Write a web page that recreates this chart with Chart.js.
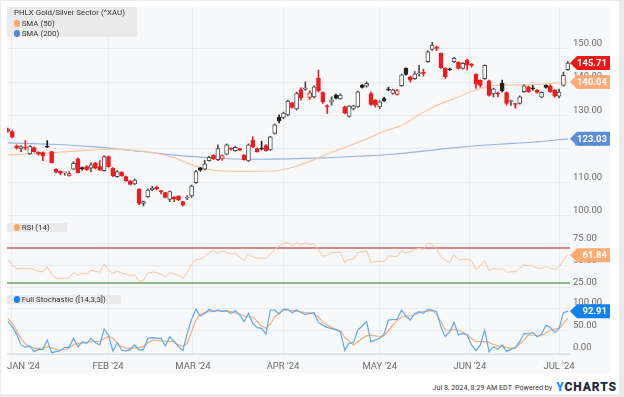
<!DOCTYPE html>
<html><head><meta charset="utf-8">
<script src="https://cdn.jsdelivr.net/npm/chart.js@4"></script>
<style>
html,body{margin:0;padding:0;background:#fff;width:624px;height:397px;overflow:hidden;font-family:Roboto,sans-serif;}
#frame{position:absolute;left:0;top:0;width:624px;height:397px;box-sizing:border-box;border-style:solid;border-color:#ebebeb;border-width:1px 5px 3px 1px;}
#panel{position:absolute;left:7px;top:7px;width:603px;height:366px;background:#f7f8f9;}
canvas{position:absolute;left:7px;}
.leg{position:absolute;left:7px;background:rgba(232,232,232,0.85);z-index:5;color:#333;font-size:7.9px;line-height:9px;white-space:nowrap;}
.leg .row{position:absolute;}
.dot{position:absolute;width:6.5px;height:6.5px;border-radius:50%;}
#footer{position:absolute;right:7px;top:380px;height:14px;display:flex;align-items:center;gap:3px;color:#333;font-size:7.2px;z-index:5;white-space:nowrap;}
#logo{font-weight:900;font-size:12px;letter-spacing:0.9px;color:#1c2a3a;margin-left:1px;}
#logo span{color:#1a8cff;}
</style>
</head><body>
<div id="frame"></div>
<div id="panel"></div>
<canvas id="main" width="603" height="210" style="top:7px"></canvas>
<canvas id="rsi" width="603" height="71" style="top:218px"></canvas>
<canvas id="stoch" width="603" height="84" style="top:290px"></canvas>

<div class="leg" style="top:7px;width:130px;height:30px;">
  <div class="row" style="left:7px;top:0.8px;">PHLX Gold/Silver Sector (^XAU)</div>
  <div class="dot" style="left:6.5px;top:13px;background:#ffa468;"></div>
  <div class="row" style="left:14.7px;top:11.8px;">SMA (50)</div>
  <div class="dot" style="left:6.5px;top:23px;background:#4f86d9;"></div>
  <div class="row" style="left:14.7px;top:21.8px;">SMA (200)</div>
</div>
<div class="leg" style="top:223px;width:60px;height:9px;">
  <div class="dot" style="left:6.5px;top:1.3px;background:#ffa468;"></div>
  <div class="row" style="left:14.7px;top:0px;">RSI (14)</div>
</div>
<div class="leg" style="top:295px;width:114px;height:9px;">
  <div class="dot" style="left:6.5px;top:1.3px;background:#1a7ff0;"></div>
  <div class="row" style="left:14.7px;top:0px;">Full Stochastic ([14,3,3])</div>
</div>
<div id="footer"><span>Jul 8, 2024, 8:29 AM EDT</span><span>Powered by</span><span id="logo"><span>Y</span>CHARTS</span></div>

<script>
// ---------- data ----------
const monthLabels = ["JAN '24","FEB '24","MAR '24","APR '24","MAY '24","JUN '24","JUL '24"];
const monthTicks = [0.9, 22.9, 42.3, 62.9, 85.0, 105.6, 126.0]; // trading-day index of month marks
const priceTicks = [100, 110, 120, 130, 140, 150];
const rsiTicks = [25, 50, 75];
const stochTicks = [0, 50, 100];
const rsiUpper = 70, rsiLower = 30;

const opens = [125.8,125.2,120.9,120.0,120.5,118.5,120.4,119.0,118.9,120.6,
119.2,113.9,113.3,112.8,111.9,113.9,117.0,114.3,114.7,114.2,
115.7,114.7,113.5,117.7,114.2,111.7,113.0,111.7,110.4,109.5,
107.9,103.7,105.7,107.7,108.6,107.4,106.9,104.9,105.5,105.9,
104.2,105.3,105.9,109.9,114.3,113.9,116.5,118.1,116.8,117.0,
118.4,120.1,119.5,120.1,118.1,116.4,122.6,120.1,120.0,121.0,
119.7,124.6,129.5,129.4,130.2,133.8,132.0,137.8,137.9,135.4,
135.6,141.1,136.9,132.8,134.0,136.1,135.0,132.6,129.7,132.0,
132.6,139.1,138.8,136.6,134.6,132.6,135.1,137.7,136.6,136.3,
138.9,144.1,141.6,141.0,142.5,142.7,146.1,149.8,150.2,148.6,
144.1,144.0,146.1,145.9,144.1,146.6,145.2,142.3,140.5,141.0,
140.4,136.5,136.8,139.6,136.9,134.2,133.4,133.6,137.1,138.6,
138.3,137.6,135.5,139.0,138.9,137.6,135.8,139.0,143.7];
const highs = [126.2,125.5,121.2,121.0,122.5,121.0,120.6,119.2,119.1,122.5,
119.3,114.0,113.4,113.0,113.1,116.2,117.3,114.6,115.0,115.8,
116.0,116.5,118.0,117.9,114.4,113.5,113.2,111.9,110.6,111.0,
108.1,104.4,108.0,108.8,108.9,107.5,107.0,107.4,105.7,106.0,
104.3,106.0,109.2,113.6,114.5,116.6,117.8,118.3,121.2,118.2,
121.5,120.3,120.8,120.2,118.3,121.5,123.6,120.3,122.3,121.3,
123.8,127.5,130.2,131.0,134.6,134.0,137.0,138.3,140.1,137.4,
138.9,143.6,137.1,133.2,135.6,136.4,136.5,132.8,133.0,133.1,
137.3,139.3,140.1,137.0,134.8,134.4,135.5,138.5,137.9,137.8,
142.4,144.3,141.8,143.2,145.0,143.9,149.4,151.9,150.8,148.8,
144.3,144.2,147.4,146.1,145.8,146.9,145.6,142.5,140.7,145.2,
140.6,138.2,137.0,140.6,137.1,134.6,133.7,135.9,139.2,138.8,
139.0,137.8,137.1,139.2,139.2,137.8,137.9,143.0,146.2];
const lows = [125.0,123.3,119.9,119.2,119.7,118.3,119.0,118.1,116.5,120.4,
115.8,112.8,112.2,112.1,111.8,113.8,112.8,113.6,113.5,113.2,
114.0,113.5,113.3,114.5,111.7,111.5,111.8,110.3,109.2,109.3,
103.3,102.9,105.5,107.5,107.8,106.5,105.3,104.2,104.2,104.5,
102.9,104.8,105.5,109.7,113.3,113.7,116.3,116.8,116.5,116.6,
118.2,119.6,119.3,119.5,116.6,116.2,120.4,119.0,119.7,119.3,
119.5,124.4,127.8,129.0,129.9,132.2,131.6,134.6,137.5,134.8,
135.3,137.0,133.6,130.6,133.1,135.0,134.8,130.5,129.5,131.7,
132.4,138.2,138.5,133.0,132.5,132.0,134.2,137.4,136.4,136.1,
138.7,142.1,140.0,140.8,141.8,141.8,145.9,149.5,149.4,144.1,
141.1,143.5,145.9,143.9,143.9,143.6,144.5,138.1,138.5,140.8,
135.8,135.5,135.6,137.0,133.1,133.0,132.2,133.4,136.9,136.9,
137.6,136.7,135.3,138.2,136.9,135.5,135.3,138.8,143.5];
const closes = [125.4,123.5,120.2,120.7,120.2,120.7,119.2,118.4,117.9,120.5,
115.9,113.0,112.7,112.9,112.6,115.7,112.9,114.1,113.8,115.2,
114.2,113.7,117.7,114.7,111.9,113.2,112.0,110.5,109.4,110.7,
103.7,104.2,107.7,108.3,108.0,107.2,105.5,107.2,105.0,104.7,
103.2,105.5,108.9,113.2,113.6,115.5,117.5,117.0,120.1,118.0,
121.2,119.9,120.5,119.6,116.8,121.2,120.6,119.2,119.9,119.5,
123.6,127.2,128.4,130.7,134.3,132.4,136.6,135.3,138.3,136.8,
138.6,137.4,134.1,132.6,134.7,135.2,136.1,130.7,132.8,132.9,
137.1,138.4,139.6,133.3,133.1,134.1,134.4,137.6,137.7,137.5,
142.2,142.3,140.6,142.5,142.7,142.6,149.1,151.1,150.1,144.3,
141.6,143.7,147.1,144.1,145.6,145.1,145.0,139.4,139.0,145.0,
136.0,138.0,136.5,137.4,133.6,134.4,133.3,135.6,138.9,137.1,
138.0,136.9,136.95,138.4,137.1,135.8,137.0,142.0,145.71];

const sma50Idx = [0,8,16,24,30,34,38,42,46,52,58,62,66,70,74,78,82,86,90,94,98,102,106,110,114,118,122,126,128];
const sma50 = [118.2,118.7,119.4,119.9,119.4,118.7,117.3,115.3,113.8,113.3,113.3,113.6,114.8,116.8,119.0,120.9,123.0,125.3,127.0,130.2,133.0,135.0,137.2,138.8,139.2,139.2,139.4,139.8,140.04];
const sma200Idx = [0,10,20,30,40,48,56,64,72,80,88,96,104,112,120,128];
const sma200 = [121.8,121.4,120.6,119.3,117.9,117.2,116.9,117.0,117.3,117.8,118.4,119.5,120.6,121.4,122.0,123.03];

const rsi = [57,51,46,47,46.5,46.8,45,43.5,42.5,48.7,
40,35.3,35,35.5,35.2,42,39,41,40.5,44.5,
43.5,42.3,51.7,45,41,43.8,41.5,40,38.3,39.5,
31.5,33.4,41.1,42.5,41.9,40,37.1,41.9,40,39,
35.2,42,52,56.5,57.1,60.2,64.6,67.6,63.1,67,
65,63.2,63.8,60,55.6,62.8,60,58.2,58.5,58.2,
63,68.5,72,75.3,76.4,72.3,76,74,76,73.3,
75,67.6,60.6,62,64.3,65,65.3,53.6,57.1,57.1,
64.8,66,67,53.6,54,55.2,54.4,60.9,60.5,60.2,
67.6,64,66,68.4,69.5,68.4,75.3,74.2,68.4,60,
56.3,53.2,62.1,56.3,57.1,57.1,55.6,45.6,49.5,55.6,
44.1,46.8,45.6,46.5,42.5,42.7,42.9,46.8,50.6,49.5,
49.5,47,46.8,48.7,46.8,45.5,48.7,56.3,61.84];

const stochK = [69.6,58.5,42,18,12.6,15.6,3,8,8.1,28.9,
0.7,3,5.2,12.6,12.6,32.6,14.1,25.2,21.5,32.6,
23,17.8,53.3,40,4.4,23,6.7,4.4,8,17.8,
6.7,8.1,32.6,34,33,32.6,15.6,36.3,25.2,14.1,
5.2,43.7,75,97,82.2,88,97,91.9,95.6,91.9,
94,88,94,84.4,69.6,88,65.9,56.3,54.8,42.2,
95.6,95.6,86.7,97,97,89.6,95.6,90,86,88,
89.6,67.4,62,57,54,52,47.4,6.7,21.5,23,
51.1,60,69.6,25.2,29,32.6,42.2,73.3,74,74.8,
95.6,82.2,73.3,88,91.9,88,97,95.6,91.9,58.5,
36.3,47.4,67.4,40,43.7,40,17.8,5.2,17.8,51.1,
3,14.1,8.1,17.8,3,8.1,12.6,25.2,43.7,42.2,
45.2,36.3,42.2,62.2,57,45.2,54.8,89.6,92.91];

const stochD = [77,66,50,32,20,14,11,10.4,11,13.5,
12,8,6.7,8,10.4,19,21.5,22,23,26,
25.2,26,32,37,32.6,22,14.1,11,10.4,11,
12,14.1,22,28.9,28,27,26.7,26,25.2,18,
15,21.5,48,73.3,86,90,92,93.3,94,93.5,
93.3,92,89,86.7,82,80,79.3,70,60,54.8,
64,80,89,95.6,95,94,93,92,90,89,
86,80.7,68,62.2,57,52,49.6,35,26,17.8,
25,32.6,38,40,38,36.3,38,50,62.2,72,
80,82.2,82.2,85,89,91.9,93,94.1,86,70,
51.1,50,52.6,50,46,41,32,25.2,25.2,25.2,
23,19,16,14,12.6,11,10.4,20,28.9,40,
40,38.5,37.8,45,51.1,53,54.8,66,77];

// ---------- helpers ----------
Chart.defaults.font.family = 'Roboto';
const X_MIN = -0.2, X_MAX = 128.5;
const n = closes.length;
const idx = closes.map((_, i) => i);
const RED = '#f21a1a', DARK = '#222222', EDGE = '#4d4d4d';
const isUp = i => closes[i] >= opens[i];
const isRed = i => closes[i] < (i > 0 ? closes[i - 1] : opens[i]);
const edgeColor = i => isRed(i) ? RED : (isUp(i) ? EDGE : DARK);
const fillColor = i => isUp(i) ? '#ffffff' : (isRed(i) ? RED : DARK);
const GRID = 'rgba(0,0,0,0.05)';

function xScale(bottom) {
  return {
    type: 'linear', min: X_MIN, max: X_MAX, offset: false,
    afterBuildTicks: s => { s.ticks = monthTicks.map(v => ({ value: v })); },
    grid: { color: GRID, drawTicks: false, offset: false },
    border: { display: bottom, color: '#dcdcdc' },
    ticks: { display: false },
    afterFit: s => { s.height = bottom ? 20 : 0; s.paddingLeft = 0; s.paddingRight = 0; }
  };
}
function yScale(min, max, ticks) {
  return {
    position: 'right', min, max,
    afterBuildTicks: s => { s.ticks = ticks.map(v => ({ value: v })); },
    grid: { color: GRID, drawTicks: false },
    border: { display: false },
    ticks: { autoSkip: false, padding: 3, color: '#6b6b6b', font: { size: 9.5 }, labelOffset: -5,
             callback: v => Number(v).toFixed(2) },
    afterFit: s => { s.width = 40; s.paddingTop = 0; s.paddingBottom = 0; }
  };
}
function tagPlugin(tags) {
  return { id: 'tags', afterDraw(chart) {
    const ctx = chart.ctx, ys = chart.scales.y, a = chart.chartArea;
    tags.forEach(t => {
      const py = ys.getPixelForValue(t.value), h = 14;
      const x0 = a.right, x1 = x0 + 7, x2 = chart.width;
      ctx.save();
      ctx.fillStyle = t.color;
      ctx.beginPath();
      ctx.moveTo(x0, py); ctx.lineTo(x1, py - h / 2); ctx.lineTo(x2, py - h / 2);
      ctx.lineTo(x2, py + h / 2); ctx.lineTo(x1, py + h / 2); ctx.closePath(); ctx.fill();
      ctx.fillStyle = '#fff'; ctx.font = 'bold 9.5px Roboto';
      ctx.textAlign = 'right'; ctx.textBaseline = 'middle';
      ctx.fillText(t.value.toFixed(2), x2 - 3, py + 0.5);
      ctx.restore();
    });
  } };
}
const monthLabelPlugin = { id: 'monthLabels', afterDraw(chart) {
  const ctx = chart.ctx, xs = chart.scales.x, a = chart.chartArea;
  ctx.save(); ctx.font = '9.5px Roboto'; ctx.fillStyle = '#6b6b6b';
  ctx.textAlign = 'center'; ctx.textBaseline = 'middle';
  monthTicks.forEach((p, k) => {
    const t = monthLabels[k], w = ctx.measureText(t).width;
    const cx = Math.max(xs.getPixelForValue(p), a.left + w / 2);
    ctx.fillText(t, cx, a.bottom + 13);
  });
  ctx.restore();
} };
const baseOpts = (scales) => ({
  responsive: false, animation: false, events: [],
  layout: { padding: 0 },
  plugins: { legend: { display: false }, tooltip: { enabled: false } },
  scales
});
const lineDs = (data, color, w, order) => ({
  type: 'line', data, borderColor: color, borderWidth: w, pointRadius: 0,
  fill: false, tension: 0, order
});

// ---------- main price panel ----------
new Chart(document.getElementById('main'), {
  type: 'bar',
  data: { datasets: [
    { type: 'bar', data: idx.map(i => ({ x: i, y: [lows[i], highs[i]] })),
      backgroundColor: c => edgeColor(c.dataIndex), borderWidth: 0, barThickness: 1, grouped: false, order: 2 },
    { type: 'bar', data: idx.map(i => ({ x: i, y: [opens[i], closes[i]] })),
      backgroundColor: c => fillColor(c.dataIndex), borderColor: c => edgeColor(c.dataIndex),
      borderWidth: 1, borderSkipped: false, barThickness: 4, minBarLength: 1, grouped: false, order: 1 },
    Object.assign(lineDs(sma50Idx.map((x, k) => ({ x, y: sma50[k] })), '#fbc6a2', 1.2, 5), { cubicInterpolationMode: 'monotone' }),
    Object.assign(lineDs(sma200Idx.map((x, k) => ({ x, y: sma200[k] })), '#94b4e6', 1.2, 6), { cubicInterpolationMode: 'monotone' })
  ] },
  options: baseOpts({ x: xScale(false), y: yScale(99.61, 162.49, priceTicks) }),
  plugins: [tagPlugin([
    { value: closes[n - 1], color: '#f01616' },
    { value: sma50[sma50.length - 1], color: '#ffaa78' },
    { value: sma200[sma200.length - 1], color: '#5a8cd8' }
  ])]
});

// ---------- RSI panel ----------
new Chart(document.getElementById('rsi'), {
  type: 'line',
  data: { datasets: [
    lineDs([{ x: X_MIN, y: rsiUpper }, { x: X_MAX, y: rsiUpper }], '#c9625f', 1.5, 3),
    lineDs([{ x: X_MIN, y: rsiLower }, { x: X_MAX, y: rsiLower }], '#6e9f6e', 1.5, 3),
    lineDs(idx.map(i => ({ x: i, y: rsi[i] })), '#ffc29b', 1, 1)
  ] },
  options: baseOpts({ x: xScale(false), y: yScale(23.14, 104.29, rsiTicks) }),
  plugins: [tagPlugin([{ value: rsi[n - 1], color: '#ffaa70' }])]
});

// ---------- Stochastic panel ----------
new Chart(document.getElementById('stoch'), {
  type: 'line',
  data: { datasets: [
    lineDs(idx.map(i => ({ x: i, y: stochD[i] })), '#f6ad77', 1.2, 2),
    lineDs(idx.map(i => ({ x: i, y: stochK[i] })), '#5ea8ef', 1.2, 1)
  ] },
  options: baseOpts({ x: xScale(true), y: yScale(-2.22, 140, stochTicks) }),
  plugins: [tagPlugin([{ value: stochK[n - 1], color: '#1281f0' }]), monthLabelPlugin]
});
</script>
</body></html>
